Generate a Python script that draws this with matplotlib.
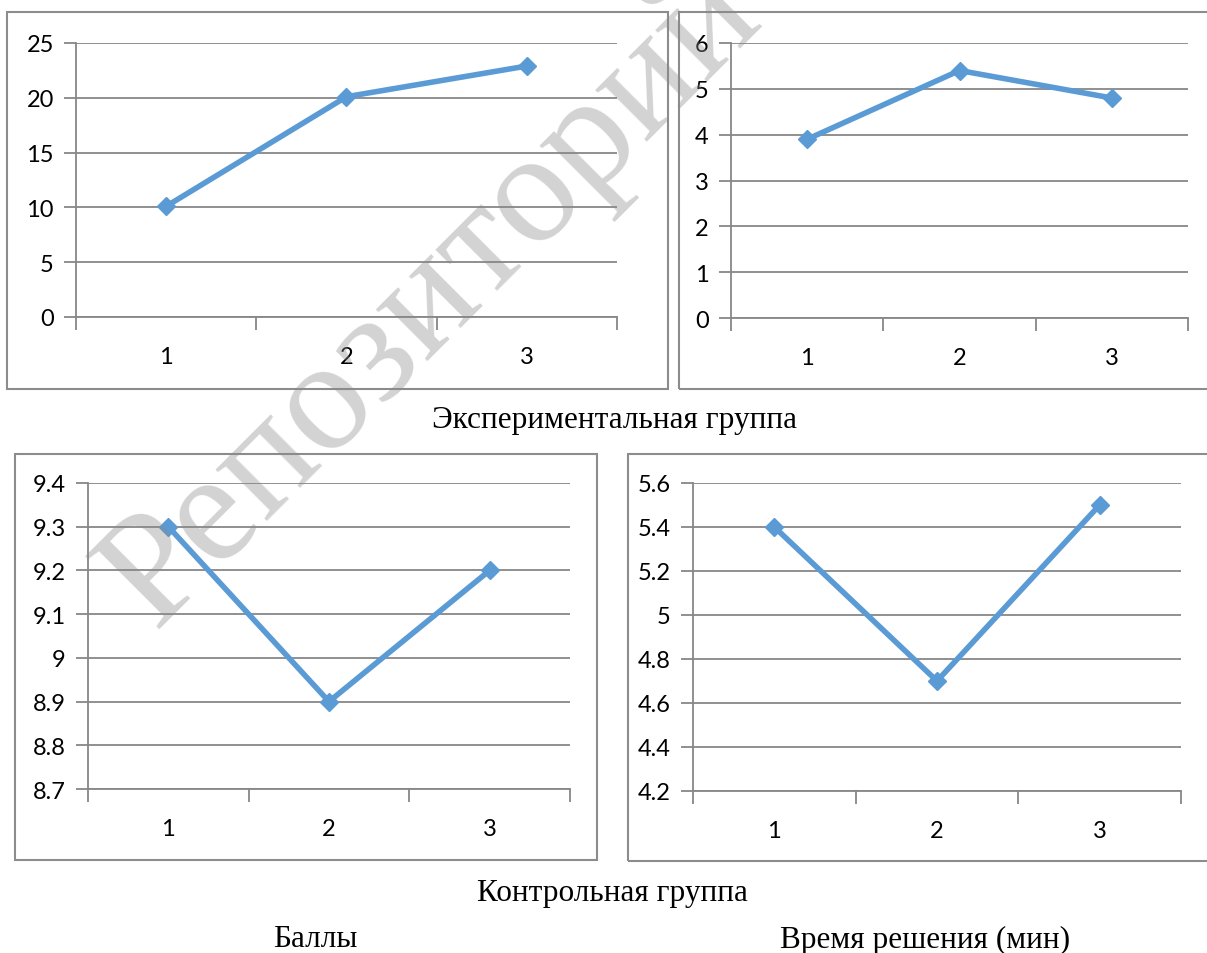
import matplotlib
matplotlib.use("Agg")
import matplotlib.pyplot as plt
from matplotlib.patches import Rectangle

W, H = 1207, 954

categories = [1, 2, 3]
exp_scores = [10.1, 20.1, 22.9]
exp_time = [3.9, 5.4, 4.8]
ctrl_scores = [9.3, 8.9, 9.2]
ctrl_time = [5.4, 4.7, 5.5]

exp_scores_ticks = [0, 5, 10, 15, 20, 25]
exp_time_ticks = [0, 1, 2, 3, 4, 5, 6]
ctrl_scores_ticks = [8.7, 8.8, 8.9, 9, 9.1, 9.2, 9.3, 9.4]
ctrl_time_ticks = [4.2, 4.4, 4.6, 4.8, 5, 5.2, 5.4, 5.6]

title_exp = "Экспериментальная группа"
title_ctrl = "Контрольная группа"
label_scores = "Баллы"
label_time = "Время решения (мин)"
watermark = "Репозиторий"

LINE = "#5B9BD5"
GRID = "#878787"
FRAME = "#8C8C8C"

fig = plt.figure(figsize=(W / 100, H / 100), dpi=100)


def px_axes(x1, y1, x2, y2):
    return fig.add_axes([x1 / W, 1 - y2 / H, (x2 - x1) / W, (y2 - y1) / H])


def frame(x1, y1, x2, y2):
    r = Rectangle((x1 / W, 1 - y2 / H), (x2 - x1) / W, (y2 - y1) / H,
                  transform=fig.transFigure, fill=False, edgecolor=FRAME,
                  linewidth=1.5, zorder=0)
    fig.patches.append(r)


def panel(box, values, yticks, labels):
    ax = px_axes(*box)
    ax.set_xlim(0.5, 3.5)
    ax.set_ylim(yticks[0], yticks[-1])
    ax.set_yticks(yticks)
    ax.set_yticklabels(labels)
    ax.set_xticks([0.5, 1.5, 2.5, 3.5])
    ax.set_xticklabels([])
    ax.set_xticks(categories, minor=True)
    ax.set_xticklabels([str(c) for c in categories], minor=True)
    ax.tick_params(axis="x", which="minor", length=0, pad=21, labelsize=17)
    ax.tick_params(axis="x", which="major", length=9, width=1.3, color=GRID,
                   direction="out")
    ax.tick_params(axis="y", length=9, width=1.3, color=GRID, pad=7,
                   labelsize=17, direction="out")
    for lab in ax.get_xticklabels(minor=True) + ax.get_yticklabels():
        lab.set_fontfamily("Lato")
    for s in ["top", "right"]:
        ax.spines[s].set_visible(False)
    for s in ["left", "bottom"]:
        ax.spines[s].set_color(GRID)
        ax.spines[s].set_linewidth(1.3)
    ax.yaxis.grid(True, color=GRID, linewidth=1.3)
    ax.set_axisbelow(True)
    ax.plot(categories, values, color=LINE, linewidth=4.0, marker="D",
            markersize=9.5, markerfacecolor=LINE, markeredgecolor=LINE,
            clip_on=False, zorder=3)
    ax.patch.set_visible(False)
    return ax


frame(7, 13, 668, 390)
frame(679, 13, 1230, 390)
frame(15, 455, 597, 861)
frame(628, 455, 1230, 862)

panel((76, 44, 617, 318), exp_scores, exp_scores_ticks,
      [str(t) for t in exp_scores_ticks])
panel((731, 44, 1188, 319), exp_time, exp_time_ticks,
      [str(t) for t in exp_time_ticks])
panel((88, 484, 570, 790), ctrl_scores, ctrl_scores_ticks,
      [f"{t:g}" for t in ctrl_scores_ticks])
panel((693, 484, 1181, 792), ctrl_time, ctrl_time_ticks,
      [f"{t:g}" for t in ctrl_time_ticks])

serif = ["Liberation Serif", "DejaVu Serif"]
fig.text(614 / W, 1 - 421 / H, title_exp, ha="center", va="center",
         fontsize=22.5, family=serif)
fig.text(612 / W, 1 - 893 / H, title_ctrl, ha="center", va="center",
         fontsize=22.5, family=serif)
fig.text(315 / W, 1 - 940 / H, label_scores, ha="center", va="center",
         fontsize=22.5, family=serif)
fig.text(925 / W, 1 - 940 / H, label_time, ha="center", va="center",
         fontsize=22.5, family=serif)

fig.text(432 / W, 1 - 298 / H, watermark, ha="center", va="center",
         rotation=45, rotation_mode="anchor", fontsize=114, family=serif,
         color="#8a8a8a", alpha=0.38, zorder=10)

fig.savefig("out.png", dpi=100)
